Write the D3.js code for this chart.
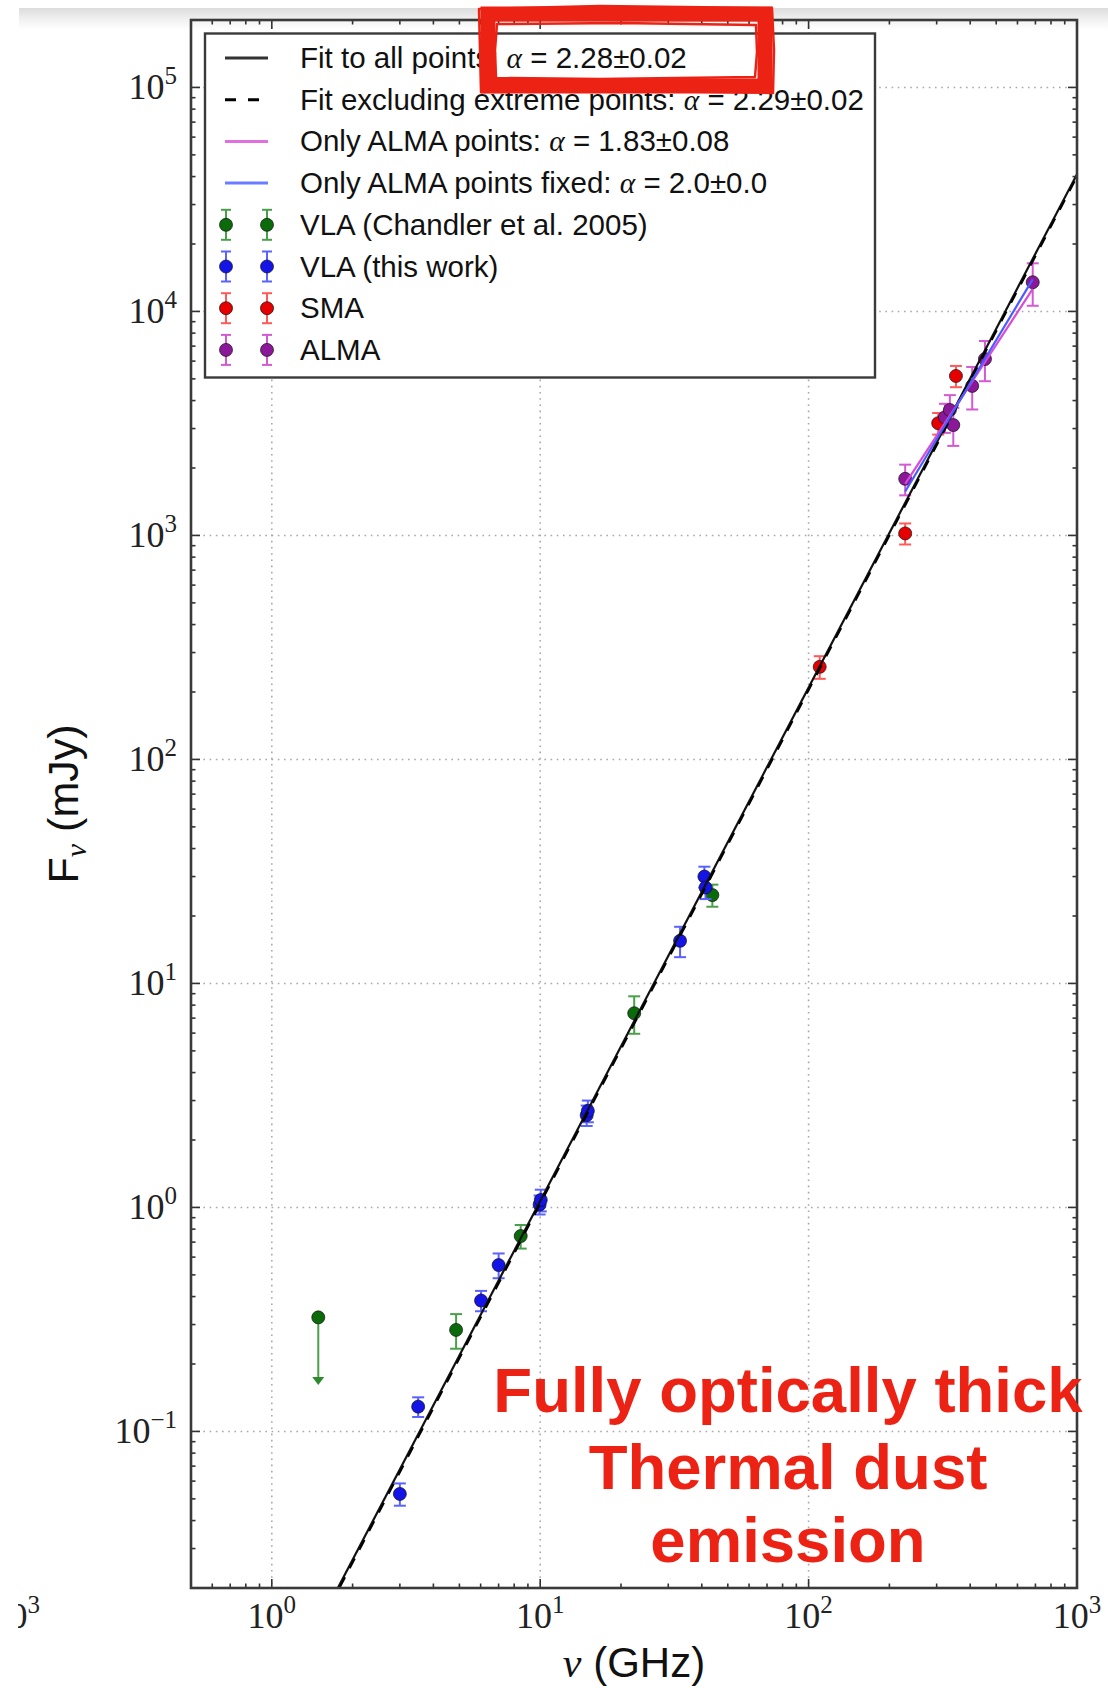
<!DOCTYPE html>
<html><head><meta charset="utf-8">
<script src="https://cdn.jsdelivr.net/npm/d3@7"></script>
<style>html,body{margin:0;padding:0;background:#fff;} svg{display:block;}</style>
</head><body>
<script>
// ---------------- data ----------------
const vlaChandlerNu  = [4.86, 8.46, 22.4, 43.8];
const vlaChandlerF   = [0.284, 0.745, 7.36, 24.8];
const vlaChandlerErr = [0.05, 0.09, 1.4, 2.8];
const vlaLimitNu = [1.49];
const vlaLimitF  = [0.323];
const vlaLimitTo = [0.161];
const vlaThisNu  = [3.0, 3.51, 6.02, 7.0, 9.95, 10.05, 14.9, 15.05, 33.2, 40.9, 41.3];
const vlaThisF   = [0.0526, 0.129, 0.384, 0.553, 1.03, 1.08, 2.58, 2.70, 15.5, 30.0, 26.8];
const vlaThisErr = [0.006, 0.013, 0.04, 0.07, 0.1, 0.12, 0.27, 0.3, 2.4, 3.2, 3.0];
const smaNu  = [110, 229, 304, 354];
const smaF   = [259, 1021, 3170, 5150];
const smaErr = [30, 110, 350, 560];
const almaNu  = [229, 322, 336, 346, 407, 454, 684];
const almaF   = [1790, 3370, 3630, 3110, 4650, 6130, 13500];
const almaErr = [280, 500, 600, 600, 1000, 1250, 2900];
// fit lines (end points)
const fitAllNu = [1, 1000],   fitAllF = [0.00546, 41000];
const fitExclNu = [1, 1000],  fitExclF = [0.0053, 40000];
const fitAlmaNu = [229, 684], fitAlmaF = [1700, 12600];
const fitFixNu = [229, 684],  fitFixF = [1570, 13900];
// ticks / labels
const xMajorTicks = [1, 10, 100, 1000];
const xTickExp = ["0", "1", "2", "3"];
const yMajorTicks = [0.1, 1, 10, 100, 1000, 1e4, 1e5];
const yTickExp = ["\u22121", "0", "1", "2", "3", "4", "5"];
const legendLines = [
  ["Fit to all points: ", "2.28\u00b10.02"],
  ["Fit excluding extreme points: ", "2.29\u00b10.02"],
  ["Only ALMA points: ", "1.83\u00b10.08"],
  ["Only ALMA points fixed: ", "2.0\u00b10.0"]
];
const legendPoints = ["VLA (Chandler et al. 2005)", "VLA (this work)", "SMA", "ALMA"];
const noteLines = ["Fully optically thick", "Thermal dust", "emission"];

// ---------------- setup ----------------
const W = 1108, H = 1688;
const L = 191, R = 1077, T = 20, B = 1588;
const SANS = "'Liberation Sans', Arial, Helvetica, sans-serif";
const SERIF = "'Liberation Serif', 'Times New Roman', serif";
const RED = "#ec2214";

const svg = d3.select("body").append("svg").attr("width", W).attr("height", H)
  .style("background", "#fff");
const defs = svg.append("defs");
const grad = defs.append("linearGradient").attr("id", "topbar").attr("x1", 0).attr("y1", 0).attr("x2", 0).attr("y2", 1);
grad.append("stop").attr("offset", "0").attr("stop-color", "#dcdcdc");
grad.append("stop").attr("offset", "0.55").attr("stop-color", "#f2f2f2");
grad.append("stop").attr("offset", "1").attr("stop-color", "#ffffff");
defs.append("clipPath").attr("id", "plotclip").append("rect")
  .attr("x", L).attr("y", T).attr("width", R - L).attr("height", B - T);
defs.append("clipPath").attr("id", "fragclip").append("rect")
  .attr("x", 18).attr("y", 1580).attr("width", 60).attr("height", 60);

svg.append("rect").attr("x", 19).attr("y", 8).attr("width", W - 19).attr("height", 22).attr("fill", "url(#topbar)");

const x = d3.scaleLog().domain([0.5, 1000]).range([L, R]);
const y = d3.scaleLog().domain([0.02, 2e5]).range([B, T]);
const isMajor = v => Math.abs(Math.log10(v) - Math.round(Math.log10(v))) < 1e-9;

// grid
const grid = svg.append("g").attr("stroke", "#a8a8a8").attr("stroke-width", 1.6)
  .attr("stroke-dasharray", "1.6,4.6");
xMajorTicks.filter(v => x(v) < R - 2).forEach(v =>
  grid.append("line").attr("x1", x(v)).attr("x2", x(v)).attr("y1", T).attr("y2", B));
yMajorTicks.forEach(v =>
  grid.append("line").attr("x1", L).attr("x2", R).attr("y1", y(v)).attr("y2", y(v)));

// ---------------- data marks ----------------
const plot = svg.append("g").attr("clip-path", "url(#plotclip)");

function series(nu, F, err, fill, ecol) {
  const g = plot.append("g");
  nu.forEach((n, i) => {
    const cx = x(n), yt = y(F[i] + err[i]), yb = y(F[i] - err[i]);
    g.append("line").attr("x1", cx).attr("x2", cx).attr("y1", yt).attr("y2", yb)
      .attr("stroke", ecol).attr("stroke-width", 2);
    [yt, yb].forEach(yy => g.append("line").attr("x1", cx - 6).attr("x2", cx + 6)
      .attr("y1", yy).attr("y2", yy).attr("stroke", ecol).attr("stroke-width", 2));
  });
  g.selectAll("circle").data(nu).join("circle")
    .attr("cx", d => x(d)).attr("cy", (d, i) => y(F[i])).attr("r", 6.5)
    .attr("fill", fill).attr("stroke", "#111").attr("stroke-opacity", 0.7).attr("stroke-width", 1);
}

// upper limit (green)
vlaLimitNu.forEach((n, i) => {
  const cx = x(n), y0 = y(vlaLimitF[i]), y1 = y(vlaLimitTo[i]);
  plot.append("line").attr("x1", cx).attr("x2", cx).attr("y1", y0).attr("y2", y1 - 6)
    .attr("stroke", "#4aa04a").attr("stroke-width", 2);
  plot.append("path").attr("d", `M${cx - 6},${y1 - 8} L${cx + 6},${y1 - 8} L${cx},${y1} Z`)
    .attr("fill", "#2f8a2f");
  plot.append("circle").attr("cx", cx).attr("cy", y0).attr("r", 6.5)
    .attr("fill", "#0b6b0b").attr("stroke", "#111").attr("stroke-opacity", 0.7);
});
series(vlaChandlerNu, vlaChandlerF, vlaChandlerErr, "#0b6b0b", "#4aa04a");
series(vlaThisNu, vlaThisF, vlaThisErr, "#1414e6", "#5a62ff");
series(smaNu, smaF, smaErr, "#e60000", "#ff5a5a");
series(almaNu, almaF, almaErr, "#8a1898", "#d45ad4");

// fit lines
const line = d3.line().x(d => x(d[0])).y(d => y(d[1]));
plot.append("path").attr("d", line(d3.zip(fitAllNu, fitAllF))).attr("fill", "none")
  .attr("stroke", "#111").attr("stroke-width", 2.2);
plot.append("path").attr("d", line(d3.zip(fitExclNu, fitExclF))).attr("fill", "none")
  .attr("stroke", "#000").attr("stroke-width", 2.2).attr("stroke-dasharray", "11,10");
plot.append("path").attr("d", line(d3.zip(fitAlmaNu, fitAlmaF))).attr("fill", "none")
  .attr("stroke", "#d84ad8").attr("stroke-width", 2.2);
plot.append("path").attr("d", line(d3.zip(fitFixNu, fitFixF))).attr("fill", "none")
  .attr("stroke", "#4a5cff").attr("stroke-width", 2.2);

// ---------------- axes frame & ticks ----------------
const frame = svg.append("g");
const tk = frame.append("g").attr("stroke", "#333").attr("stroke-width", 1.6);
x.ticks().forEach(v => {
  const px = x(v); if (px < L + 1 || px > R - 1) return;
  const len = isMajor(v) ? 9 : 4.5;
  tk.append("line").attr("x1", px).attr("x2", px).attr("y1", B).attr("y2", B - len);
  tk.append("line").attr("x1", px).attr("x2", px).attr("y1", T).attr("y2", T + len);
});
y.ticks().forEach(v => {
  const py = y(v); if (py < T + 1 || py > B - 1) return;
  const len = isMajor(v) ? 9 : 4.5;
  tk.append("line").attr("x1", L).attr("x2", L + len).attr("y1", py).attr("y2", py);
  tk.append("line").attr("x1", R).attr("x2", R - len).attr("y1", py).attr("y2", py);
});
frame.append("rect").attr("x", L).attr("y", T).attr("width", R - L).attr("height", B - T)
  .attr("fill", "none").attr("stroke", "#3a3a3a").attr("stroke-width", 2.6);

// tick labels
function powLabel(sel, exp) {
  sel.append("tspan").text("10");
  sel.append("tspan").attr("dy", -15).attr("font-size", 25).text(exp);
}
xMajorTicks.forEach((v, i) => {
  const t = svg.append("text").attr("x", x(v)).attr("y", 1628).attr("text-anchor", "middle")
    .attr("font-family", SERIF).attr("font-size", 36).attr("fill", "#222");
  powLabel(t, xTickExp[i]);
});
yMajorTicks.forEach((v, i) => {
  const t = svg.append("text").attr("x", 177).attr("y", y(v) + 12).attr("text-anchor", "end")
    .attr("font-family", SERIF).attr("font-size", 36).attr("fill", "#222");
  powLabel(t, yTickExp[i]);
});
// cut-off label of a neighbouring panel, as in the reference
const frag = svg.append("g").attr("clip-path", "url(#fragclip)")
  .append("text").attr("x", 40).attr("y", 1628).attr("text-anchor", "end")
  .attr("font-family", SERIF).attr("font-size", 36).attr("fill", "#222");
powLabel(frag, "3");

// axis labels
const xl = svg.append("text").attr("x", (L + R) / 2).attr("y", 1677).attr("text-anchor", "middle")
  .attr("font-family", SANS).attr("font-size", 42).attr("fill", "#111");
xl.append("tspan").attr("font-family", SERIF).attr("font-style", "italic").text("\u03bd");
xl.append("tspan").text(" (GHz)");
const yl = svg.append("text").attr("transform", `translate(78,${(T + B) / 2}) rotate(-90)`)
  .attr("text-anchor", "middle").attr("font-family", SANS).attr("font-size", 43).attr("fill", "#111");
yl.append("tspan").text("F");
yl.append("tspan").attr("dy", 8).attr("font-family", SERIF).attr("font-style", "italic").attr("font-size", 30).text("\u03bd");
yl.append("tspan").attr("dy", -8).text(" (mJy)");

// ---------------- legend ----------------
const lg = svg.append("g");
lg.append("rect").attr("x", 205).attr("y", 33.5).attr("width", 670).attr("height", 344)
  .attr("fill", "#fff").attr("stroke", "#3a3a3a").attr("stroke-width", 2.4);
const rowY = i => 58 + i * 41.7;
const lineStyles = [
  {c: "#333", d: null}, {c: "#000", d: "11,12"}, {c: "#e070e0", d: null}, {c: "#6a7cff", d: null}
];
legendLines.forEach((lab, i) => {
  const yy = rowY(i);
  lg.append("line").attr("x1", 225).attr("x2", 268).attr("y1", yy).attr("y2", yy)
    .attr("stroke", lineStyles[i].c).attr("stroke-width", 3)
    .attr("stroke-dasharray", lineStyles[i].d);
  const t = lg.append("text").attr("x", 300).attr("y", yy + 10).attr("font-family", SANS)
    .attr("font-size", 29.5).attr("fill", "#111");
  t.append("tspan").text(lab[0]);
  t.append("tspan").attr("font-family", SERIF).attr("font-style", "italic").text("\u03b1");
  t.append("tspan").text(" = " + lab[1]);
});
const ptStyles = [
  {f: "#0b6b0b", e: "#4aa04a"}, {f: "#1414e6", e: "#5a62ff"},
  {f: "#e60000", e: "#ff5a5a"}, {f: "#8a1898", e: "#d45ad4"}
];
legendPoints.forEach((lab, j) => {
  const yy = rowY(j + 4), s = ptStyles[j];
  [226, 267].forEach(cx => {
    lg.append("line").attr("x1", cx).attr("x2", cx).attr("y1", yy - 15).attr("y2", yy + 15)
      .attr("stroke", s.e).attr("stroke-width", 2);
    [yy - 15, yy + 15].forEach(c => lg.append("line").attr("x1", cx - 5).attr("x2", cx + 5)
      .attr("y1", c).attr("y2", c).attr("stroke", s.e).attr("stroke-width", 2));
    lg.append("circle").attr("cx", cx).attr("cy", yy).attr("r", 6.5).attr("fill", s.f)
      .attr("stroke", "#111").attr("stroke-opacity", 0.7);
  });
  lg.append("text").attr("x", 300).attr("y", yy + 10).attr("font-family", SANS)
    .attr("font-size", 29.5).attr("fill", "#111").text(lab);
});

// ---------------- annotations ----------------
const noteY = [1412, 1489, 1562];
noteLines.forEach((s, i) => svg.append("text").attr("x", 788).attr("y", noteY[i])
  .attr("text-anchor", "middle").attr("font-family", SANS).attr("font-weight", "bold")
  .attr("font-size", 63.5).attr("fill", RED).text(s));

// hand-drawn style red box
const box = svg.append("g").attr("fill", "none").attr("stroke", RED);
box.append("rect").attr("x", 488).attr("y", 14).attr("width", 277).attr("height", 72)
  .attr("stroke-width", 15);
box.append("path").attr("d", "M479,9 L600,6 L772,8 L774,50 L773,93 L640,91 L481,92 L480,50 Z")
  .attr("stroke-width", 2.5).attr("stroke-linejoin", "round");
box.append("path").attr("d", "M497,24 L620,23 L756,25 L757,52 L755,77 L600,79 L496,78 L495,50 Z")
  .attr("stroke-width", 2.5).attr("stroke-linejoin", "round");
</script>
</body></html>
